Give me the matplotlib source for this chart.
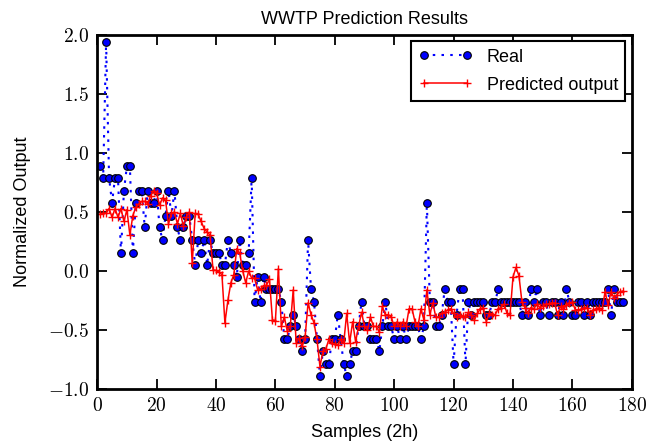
import matplotlib
matplotlib.use("Agg")
import matplotlib.pyplot as plt
from matplotlib.ticker import FuncFormatter, MultipleLocator
import numpy as np

samples = np.arange(1, 178)

real = [
    0.89, 0.79, 1.94, 0.79, 0.58, 0.79, 0.79, 0.155, 0.68, 0.89,
    0.89, 0.155, 0.58, 0.68, 0.68, 0.37, 0.68, 0.58, 0.58, 0.68,
    0.37, 0.26, 0.47, 0.68, 0.47, 0.68, 0.37, 0.26, 0.37, 0.47,
    0.47, 0.26, 0.05, 0.26, 0.155, 0.26, 0.05, 0.26, 0.155, 0.155,
    0.155, 0.05, 0.05, 0.26, 0.155, 0.05, -0.05, 0.26, 0.05, 0.05,
    0.155, 0.79, -0.26, -0.05, -0.26, -0.05, -0.155, -0.155, -0.155, -0.155,
    -0.155, -0.26, -0.58, -0.58, -0.47, -0.37, -0.47, -0.58, -0.68, -0.58,
    0.26, -0.155, -0.26, -0.58, -0.89, -0.68, -0.79, -0.79, -0.58, -0.58,
    -0.37, -0.58, -0.79, -0.89, -0.79, -0.68, -0.68, -0.47, -0.26, -0.47,
    -0.47, -0.58, -0.58, -0.58, -0.68, -0.47, -0.26, -0.47, -0.47, -0.58,
    -0.47, -0.58, -0.47, -0.58, -0.47, -0.47, -0.47, -0.47, -0.58, -0.47,
    0.58, -0.26, -0.26, -0.47, -0.47, -0.37, -0.155, -0.26, -0.26, -0.79,
    -0.37, -0.155, -0.155, -0.79, -0.26, -0.37, -0.26, -0.26, -0.26, -0.26,
    -0.37, -0.37, -0.26, -0.26, -0.155, -0.26, -0.26, -0.26, -0.26, -0.26,
    -0.26, -0.26, -0.37, -0.26, -0.37, -0.155, -0.26, -0.155, -0.37, -0.26,
    -0.26, -0.37, -0.26, -0.26, -0.37, -0.26, -0.37, -0.155, -0.26, -0.37,
    -0.37, -0.26, -0.26, -0.37, -0.26, -0.37, -0.26, -0.26, -0.26, -0.26,
    -0.26, -0.155, -0.37, -0.155, -0.26, -0.26, -0.26,
]

predicted = [
    0.48, 0.49, 0.49, 0.53, 0.455, 0.53, 0.455, 0.53, 0.42, 0.52,
    0.305, 0.47, 0.54, 0.57, 0.59, 0.59, 0.57, 0.64, 0.68, 0.66,
    0.56, 0.62, 0.60, 0.40, 0.49, 0.50, 0.40, 0.49, 0.38, 0.46,
    0.50, 0.065, 0.49, 0.48, 0.42, 0.36, 0.33, 0.305, 0.01, 0.005,
    -0.01, -0.03, -0.44, -0.25, -0.10, -0.03, 0.19, 0.15, 0.0, -0.10,
    0.0, -0.06, -0.06, -0.16, -0.15, -0.13, -0.12, -0.07, -0.415, -0.42,
    0.02, -0.47, -0.39, -0.51, -0.47, -0.16, -0.61, -0.57, -0.64, -0.56,
    -0.27, -0.37, -0.44, -0.58, -0.81, -0.68, -0.66, -0.58, -0.61, -0.62,
    -0.63, -0.58, -0.61, -0.36, -0.61, -0.43, -0.60, -0.47, -0.35, -0.47,
    -0.50, -0.39, -0.47, -0.47, -0.52, -0.30, -0.37, -0.37, -0.39, -0.47,
    -0.43, -0.47, -0.43, -0.47, -0.32, -0.32, -0.43, -0.47, -0.32, -0.415,
    -0.16, -0.37, -0.27, -0.39, -0.39, -0.36, -0.35, -0.33, -0.32, -0.36,
    -0.39, -0.37, -0.38, -0.39, -0.35, -0.37, -0.415, -0.36, -0.32, -0.31,
    -0.43, -0.36, -0.37, -0.37, -0.32, -0.31, -0.28, -0.36, -0.37, -0.05,
    0.03, -0.04, -0.26, -0.31, -0.36, -0.31, -0.32, -0.28, -0.31, -0.30,
    -0.28, -0.28, -0.27, -0.27, -0.37, -0.30, -0.32, -0.29, -0.27, -0.265,
    -0.33, -0.33, -0.325, -0.31, -0.31, -0.375, -0.33, -0.32, -0.31, -0.33,
    -0.175, -0.29, -0.175, -0.23, -0.20, -0.175, -0.17,
]

plt.rcParams['font.family'] = ['Liberation Sans', 'DejaVu Sans']
plt.rcParams['mathtext.fontset'] = 'cm'

fig = plt.figure(figsize=(6.48, 4.45), dpi=100)
ax = fig.add_axes([0.150, 0.126, 0.825, 0.795])

ax.plot(samples, real, linestyle=(0, (1.2, 3.0)), color='blue', linewidth=1.5,
        marker='o', markersize=5.5, markerfacecolor='blue',
        markeredgecolor='black', markeredgewidth=0.8, label='Real')
ax.plot(samples, predicted, linestyle='-', color='red', linewidth=1.1,
        marker='+', markersize=6, markeredgewidth=1.0,
        label='Predicted output')

ax.set_xlim(0, 180)
ax.set_ylim(-1.0, 2.0)
ax.xaxis.set_major_locator(MultipleLocator(20))
ax.yaxis.set_major_locator(MultipleLocator(0.5))
ax.xaxis.set_major_formatter(FuncFormatter(lambda v, p: r'$%d$' % int(round(v))))
ax.yaxis.set_major_formatter(FuncFormatter(lambda v, p: r'$%.1f$' % v))

ax.tick_params(direction='in', length=7, width=1.3, top=True, right=True,
               labelsize=14, pad=6)
for s in ax.spines.values():
    s.set_linewidth(2.0)

ax.set_title('WWTP Prediction Results', fontsize=13, pad=8)
ax.set_xlabel('Samples (2h)', fontsize=13, labelpad=6)
ax.set_ylabel('Normalized Output', fontsize=13, labelpad=12)

leg = ax.legend(loc='upper right', numpoints=2, fontsize=13, fancybox=False,
                edgecolor='black', framealpha=1.0, borderaxespad=0.35,
                handlelength=3.0, labelspacing=0.6)
leg.get_frame().set_linewidth(1.5)

fig.savefig('out.png', dpi=100)
